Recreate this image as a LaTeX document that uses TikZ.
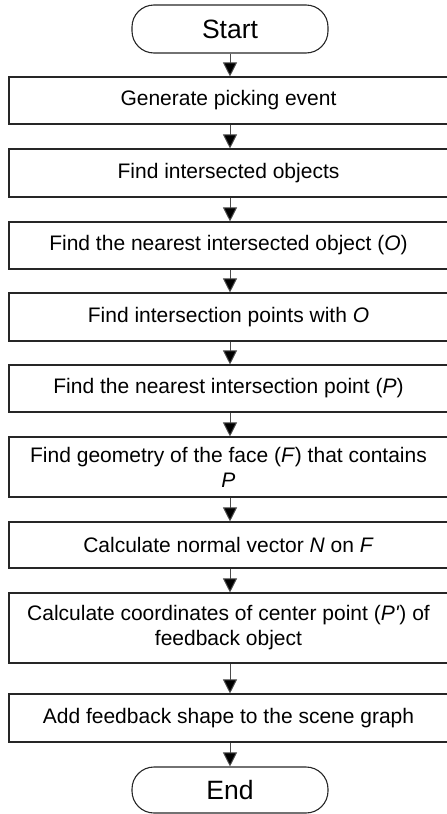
\documentclass[tikz,border=0pt]{standalone}
\usepackage{fontspec}
\setmainfont{Liberation Sans}
\usetikzlibrary{arrows.meta}
\begin{document}
\begin{tikzpicture}[x=1pt,y=-1pt,
  stepbox/.style={draw=black!85, line width=1.1pt, rectangle, inner sep=0pt,
    minimum width=439pt, align=center, font=\fontsize{21}{25}\selectfont},
  term/.style={draw=black!85, line width=1.1pt, rectangle, rounded corners=22pt,
    inner sep=0pt, minimum width=196pt, font=\fontsize{26.5}{30}\selectfont},
  flow/.style={draw=black!70, line width=1pt, -{Triangle[length=14pt,width=14pt,fill=black]}}]
\useasboundingbox (0,0) rectangle (447,814);
\node[term, minimum height=48pt] (s) at (230,29) {Start};
\node[stepbox, minimum height=47pt] (b1) at (228.5,100.5) {Generate picking event};
\node[stepbox, minimum height=48pt] (b2) at (228.5,173) {Find intersected objects};
\node[stepbox, minimum height=47pt] (b3) at (228.5,245.5) {Find the nearest intersected object (\textit{O})};
\node[stepbox, minimum height=48pt] (b4) at (228.5,317) {Find intersection points with \textit{O}};
\node[stepbox, minimum height=47pt] (b5) at (228.5,388.5) {Find the nearest intersection point (\textit{P})};
\node[stepbox, minimum height=60pt] (b6) at (228.5,467) {Find geometry of the face (\textit{F}) that contains\\\textit{P}};
\node[stepbox, minimum height=46pt] (b7) at (228.5,545) {Calculate normal vector \textit{N} on \textit{F}};
\node[stepbox, minimum height=70pt] (b8) at (228.5,628) {Calculate coordinates of center point (\textit{P\textquotesingle}) of\\feedback object};
\node[stepbox, minimum height=48pt] (b9) at (228.5,718) {Add feedback shape to the scene graph};
\node[term, minimum height=46pt] (e) at (230,790) {End};
\draw[flow] (s.south) -- (s.south |- b1.north);
\draw[flow] (s.south |- b1.south) -- (s.south |- b2.north);
\draw[flow] (s.south |- b2.south) -- (s.south |- b3.north);
\draw[flow] (s.south |- b3.south) -- (s.south |- b4.north);
\draw[flow] (s.south |- b4.south) -- (s.south |- b5.north);
\draw[flow] (s.south |- b5.south) -- (s.south |- b6.north);
\draw[flow] (s.south |- b6.south) -- (s.south |- b7.north);
\draw[flow] (s.south |- b7.south) -- (s.south |- b8.north);
\draw[flow] (s.south |- b8.south) -- (s.south |- b9.north);
\draw[flow] (s.south |- b9.south) -- (e.north);
\end{tikzpicture}
\end{document}
